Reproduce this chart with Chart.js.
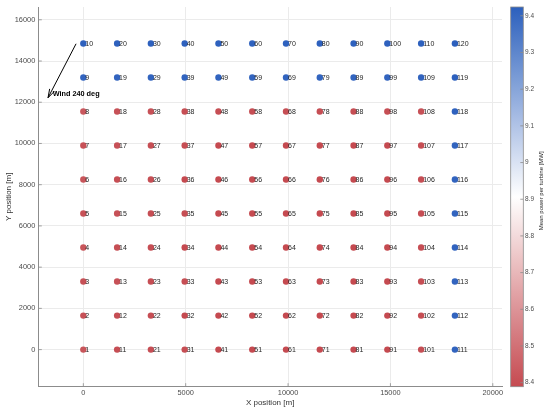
<!DOCTYPE html>
<html lang="en">
<head>
<meta charset="UTF-8">
<title>Wind farm layout</title>
<script src="https://cdn.jsdelivr.net/npm/chart.js"></script>
<style>
  html, body { margin: 0; padding: 0; background: #fff; }
</style>
</head>
<body>
<canvas id="layout-chart" width="550" height="415"></canvas>
<script>
// turbine grid (m)
const xPositions = [0, 1650, 3300, 4950, 6600, 8250, 9900, 11550, 13200, 14850, 16500, 18150];
const yPositions = [0, 1650, 3300, 4950, 6600, 8250, 9900, 11550, 13200, 14850];

// mean power per turbine [MW], one list per column, bottom row first
const meanPower = [
    [8.42, 8.41, 8.41, 8.42, 8.41, 8.42, 8.41, 8.43, 9.41, 9.42],
    [8.40, 8.40, 8.41, 8.40, 8.41, 8.40, 8.41, 8.41, 9.41, 9.42],
    [8.40, 8.40, 8.40, 8.40, 8.40, 8.40, 8.40, 8.41, 9.41, 9.42],
    [8.40, 8.39, 8.40, 8.39, 8.40, 8.39, 8.40, 8.40, 9.41, 9.42],
    [8.39, 8.39, 8.39, 8.39, 8.39, 8.39, 8.39, 8.40, 9.41, 9.42],
    [8.39, 8.39, 8.39, 8.39, 8.39, 8.39, 8.39, 8.40, 9.41, 9.42],
    [8.389, 8.39, 8.39, 8.39, 8.39, 8.39, 8.39, 8.40, 9.41, 9.42],
    [8.39, 8.39, 8.39, 8.39, 8.39, 8.39, 8.39, 8.40, 9.41, 9.42],
    [8.39, 8.39, 8.39, 8.39, 8.39, 8.39, 8.39, 8.40, 9.41, 9.42],
    [8.39, 8.39, 8.39, 8.39, 8.39, 8.39, 8.39, 8.40, 9.41, 9.42],
    [8.40, 8.40, 8.40, 8.40, 8.40, 8.40, 8.40, 8.41, 9.41, 9.42],
    [9.41, 9.41, 9.41, 9.41, 9.41, 9.41, 9.41, 9.42, 9.42, 9.424]
];

const xRange = [-2200, 20450];
const yRange = [-1800, 16620];
const xTicks = [0, 5000, 10000, 15000, 20000];
const yTicks = [0, 2000, 4000, 6000, 8000, 10000, 12000, 14000, 16000];
const powerRange = [8.389, 9.424];
const colorbarTicks = [8.4, 8.5, 8.6, 8.7, 8.8, 8.9, 9, 9.1, 9.2, 9.3, 9.4];

// wind annotation, in data units
const windArrowFrom = { x: -356, y: 14836 };
const windArrowTo = { x: -1724, y: 12218 };
const windLabelAt = { x: -1500, y: 12400 };
const windLabel = 'Wind 240 deg';

const redEnd = [197, 74, 80];
const whiteMid = [255, 255, 255];
const blueEnd = [44, 96, 189];
const FONT = '"Liberation Sans", Arial, sans-serif';

function powerColor(v) {
    let t = (v - powerRange[0]) / (powerRange[1] - powerRange[0]);
    t = Math.max(0, Math.min(1, t));
    let a, b, f;
    if (t < 0.5) { a = redEnd; b = whiteMid; f = t / 0.5; }
    else { a = whiteMid; b = blueEnd; f = (t - 0.5) / 0.5; }
    const c = a.map((ch, i) => Math.round(ch + (b[i] - ch) * f));
    return `rgb(${c[0]}, ${c[1]}, ${c[2]})`;
}

const points = [];
xPositions.forEach((x, col) => {
    yPositions.forEach((y, row) => {
        points.push({ x: x, y: y, power: meanPower[col][row], id: col * 10 + row + 1 });
    });
});

const layoutDecor = {
    id: 'layoutDecor',
    afterDatasetsDraw(chart) {
        const ctx = chart.ctx;
        const xs = chart.scales.x, ys = chart.scales.y, cs = chart.scales.y2;
        ctx.save();

        // turbine numbers
        ctx.font = '7px ' + FONT;
        ctx.fillStyle = '#262626';
        ctx.textAlign = 'left';
        ctx.textBaseline = 'middle';
        chart.getDatasetMeta(0).data.forEach((el, i) => {
            ctx.fillText(String(points[i].id), el.x + 2, el.y + 0.5);
        });

        // inward tick marks
        ctx.strokeStyle = '#8c8c8c';
        ctx.lineWidth = 0.8;
        ctx.beginPath();
        xs.ticks.forEach(t => {
            const px = xs.getPixelForValue(t.value);
            ctx.moveTo(px, xs.top);
            ctx.lineTo(px, xs.top - 3.5);
        });
        ys.ticks.forEach(t => {
            const py = ys.getPixelForValue(t.value);
            ctx.moveTo(ys.right, py);
            ctx.lineTo(ys.right + 3.5, py);
        });
        ctx.stroke();

        // wind arrow
        const x0 = xs.getPixelForValue(windArrowFrom.x), y0 = ys.getPixelForValue(windArrowFrom.y);
        const x1 = xs.getPixelForValue(windArrowTo.x), y1 = ys.getPixelForValue(windArrowTo.y);
        const ang = Math.atan2(y1 - y0, x1 - x0);
        ctx.strokeStyle = '#000';
        ctx.lineWidth = 1;
        ctx.beginPath();
        ctx.moveTo(x0, y0);
        ctx.lineTo(x1, y1);
        ctx.moveTo(x1, y1);
        ctx.lineTo(x1 - 9 * Math.cos(ang - 0.3), y1 - 9 * Math.sin(ang - 0.3));
        ctx.moveTo(x1, y1);
        ctx.lineTo(x1 - 9 * Math.cos(ang + 0.3), y1 - 9 * Math.sin(ang + 0.3));
        ctx.stroke();
        ctx.font = 'bold 7.3px ' + FONT;
        ctx.fillStyle = '#000';
        ctx.fillText(windLabel, xs.getPixelForValue(windLabelAt.x), ys.getPixelForValue(windLabelAt.y));

        // colour bar
        const bx = cs.left + 8.7, bw = 12.6;
        const top = cs.getPixelForValue(powerRange[1]), bottom = cs.getPixelForValue(powerRange[0]);
        const grad = ctx.createLinearGradient(0, bottom, 0, top);
        for (let s = 0; s <= 20; s++) {
            const v = powerRange[0] + (powerRange[1] - powerRange[0]) * s / 20;
            grad.addColorStop(s / 20, powerColor(v));
        }
        ctx.fillStyle = grad;
        ctx.fillRect(bx, top, bw, bottom - top);
        ctx.strokeStyle = '#8c8c8c';
        ctx.lineWidth = 0.8;
        ctx.strokeRect(bx, top, bw, bottom - top);
        ctx.beginPath();
        colorbarTicks.forEach(v => {
            const py = cs.getPixelForValue(v);
            ctx.moveTo(bx + bw, py);
            ctx.lineTo(bx + bw - 3, py);
        });
        ctx.stroke();

        // colour bar title
        ctx.translate(cs.left + 39.7, (top + bottom) / 2 - 6);
        ctx.rotate(-Math.PI / 2);
        ctx.font = '6px ' + FONT;
        ctx.fillStyle = '#262626';
        ctx.textAlign = 'center';
        ctx.fillText('Mean power per turbine [MW]', 0, 0);
        ctx.restore();
    }
};

const tickFont = { family: FONT, size: 7.4 };
const titleFont = { family: FONT, size: 8 };

new Chart(document.getElementById('layout-chart'), {
    type: 'scatter',
    data: {
        datasets: [{
            data: points,
            backgroundColor: points.map(p => powerColor(p.power)),
            borderWidth: 0,
            pointRadius: 3.2,
            yAxisID: 'y'
        }]
    },
    options: {
        responsive: false,
        animation: false,
        events: [],
        layout: { padding: { top: 7, left: 0, right: 0, bottom: 0 } },
        plugins: { legend: { display: false }, tooltip: { enabled: false } },
        scales: {
            x: {
                type: 'linear',
                min: xRange[0],
                max: xRange[1],
                afterBuildTicks(s) { s.ticks = xTicks.map(v => ({ value: v })); },
                ticks: { font: tickFont, color: '#4d4d4d', padding: 2, maxRotation: 0, callback: v => String(v) },
                grid: { color: '#ebebeb', drawTicks: false },
                border: { color: '#8c8c8c' },
                title: { display: true, text: 'X position [m]', font: titleFont, color: '#333', padding: { top: 0, bottom: 7 } },
                afterFit(s) { s.height = 28.3; s.paddingLeft = 0; s.paddingRight = 0; }
            },
            y: {
                type: 'linear',
                position: 'left',
                min: yRange[0],
                max: yRange[1],
                afterBuildTicks(s) { s.ticks = yTicks.map(v => ({ value: v })); },
                ticks: { font: tickFont, color: '#4d4d4d', padding: 3, callback: v => String(v) },
                grid: { color: '#ebebeb', drawTicks: false },
                border: { color: '#8c8c8c' },
                title: { display: true, text: 'Y position [m]', font: titleFont, color: '#333', padding: { top: 4, bottom: 0 } },
                afterFit(s) { s.width = 38.3; s.paddingTop = 0; s.paddingBottom = 0; }
            },
            y2: {
                type: 'linear',
                position: 'right',
                min: powerRange[0],
                max: powerRange[1],
                afterBuildTicks(s) { s.ticks = colorbarTicks.map(v => ({ value: v })); },
                ticks: {
                    font: { family: FONT, size: 6.5 },
                    color: '#4d4d4d',
                    padding: 23,
                    callback: v => String(Number(v.toFixed(1)))
                },
                grid: { display: false, drawTicks: false },
                border: { display: false },
                afterFit(s) { s.width = 48; s.paddingTop = 0; s.paddingBottom = 0; }
            }
        }
    },
    plugins: [layoutDecor]
});
</script>
</body>
</html>
